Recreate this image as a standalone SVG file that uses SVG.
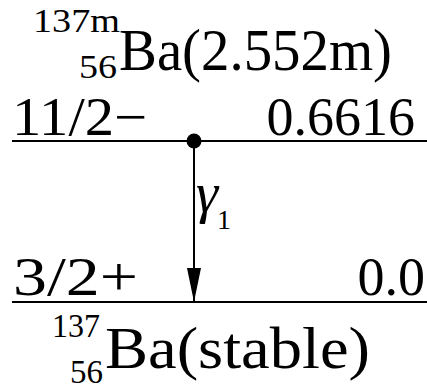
<svg xmlns="http://www.w3.org/2000/svg" width="427" height="389" viewBox="0 0 427 389">
<defs>
<style>
text{font-family:"Liberation Serif","DejaVu Serif","Times New Roman",serif;fill:#000}
.lvl{stroke:#000;stroke-width:2;fill:none}
.big{font-size:60px}
.lab{font-size:54px}
.sup{font-size:33px}
</style>
<marker id="ah" markerWidth="34" markerHeight="14" refX="34" refY="7" orient="auto" markerUnits="userSpaceOnUse" viewBox="0 0 34 14">
<path d="M0,0 L34,7 L0,14 Z" fill="#000"/>
</marker>
</defs>
<rect width="427" height="389" fill="#fff"/>
<g id="parent" font-family="Liberation Serif, serif">
<text class="sup" x="33" y="32" textLength="87" lengthAdjust="spacingAndGlyphs">137m</text>
<text class="sup" x="79" y="78" textLength="38" lengthAdjust="spacingAndGlyphs">56</text>
<text class="big" x="119" y="70" textLength="273" lengthAdjust="spacingAndGlyphs">Ba(2.552m)</text>
</g>
<g id="level-excited" font-family="Liberation Serif, serif">
<line class="lvl" x1="12" y1="141" x2="427" y2="141"/>
<text class="lab" x="12" y="135" textLength="135" lengthAdjust="spacingAndGlyphs">11/2−</text>
<text class="lab" x="415" y="135" text-anchor="end">0.6616</text>
<circle cx="194" cy="141" r="7.5" fill="#000"/>
</g>
<g id="level-ground" font-family="Liberation Serif, serif">
<line class="lvl" x1="12" y1="302" x2="427" y2="302"/>
<text class="lab" x="13" y="295" textLength="125" lengthAdjust="spacingAndGlyphs">3/2+</text>
<text class="lab" x="425" y="295" text-anchor="end">0.0</text>
</g>
<g id="daughter" font-family="Liberation Serif, serif">
<text class="sup" x="52" y="337" textLength="48" lengthAdjust="spacingAndGlyphs">137</text>
<text class="sup" x="70" y="383" textLength="33" lengthAdjust="spacingAndGlyphs">56</text>
<text class="big" x="105" y="368" textLength="265" lengthAdjust="spacingAndGlyphs">Ba(stable)</text>
</g>
<g id="connectors" font-family="Liberation Serif, serif">
<line x1="194" y1="141" x2="194" y2="302" stroke="#000" stroke-width="2" marker-end="url(#ah)"/>
<text x="196" y="212" font-size="56" font-style="italic">γ</text>
<text x="217" y="229" font-size="28">1</text>
</g>
</svg>
